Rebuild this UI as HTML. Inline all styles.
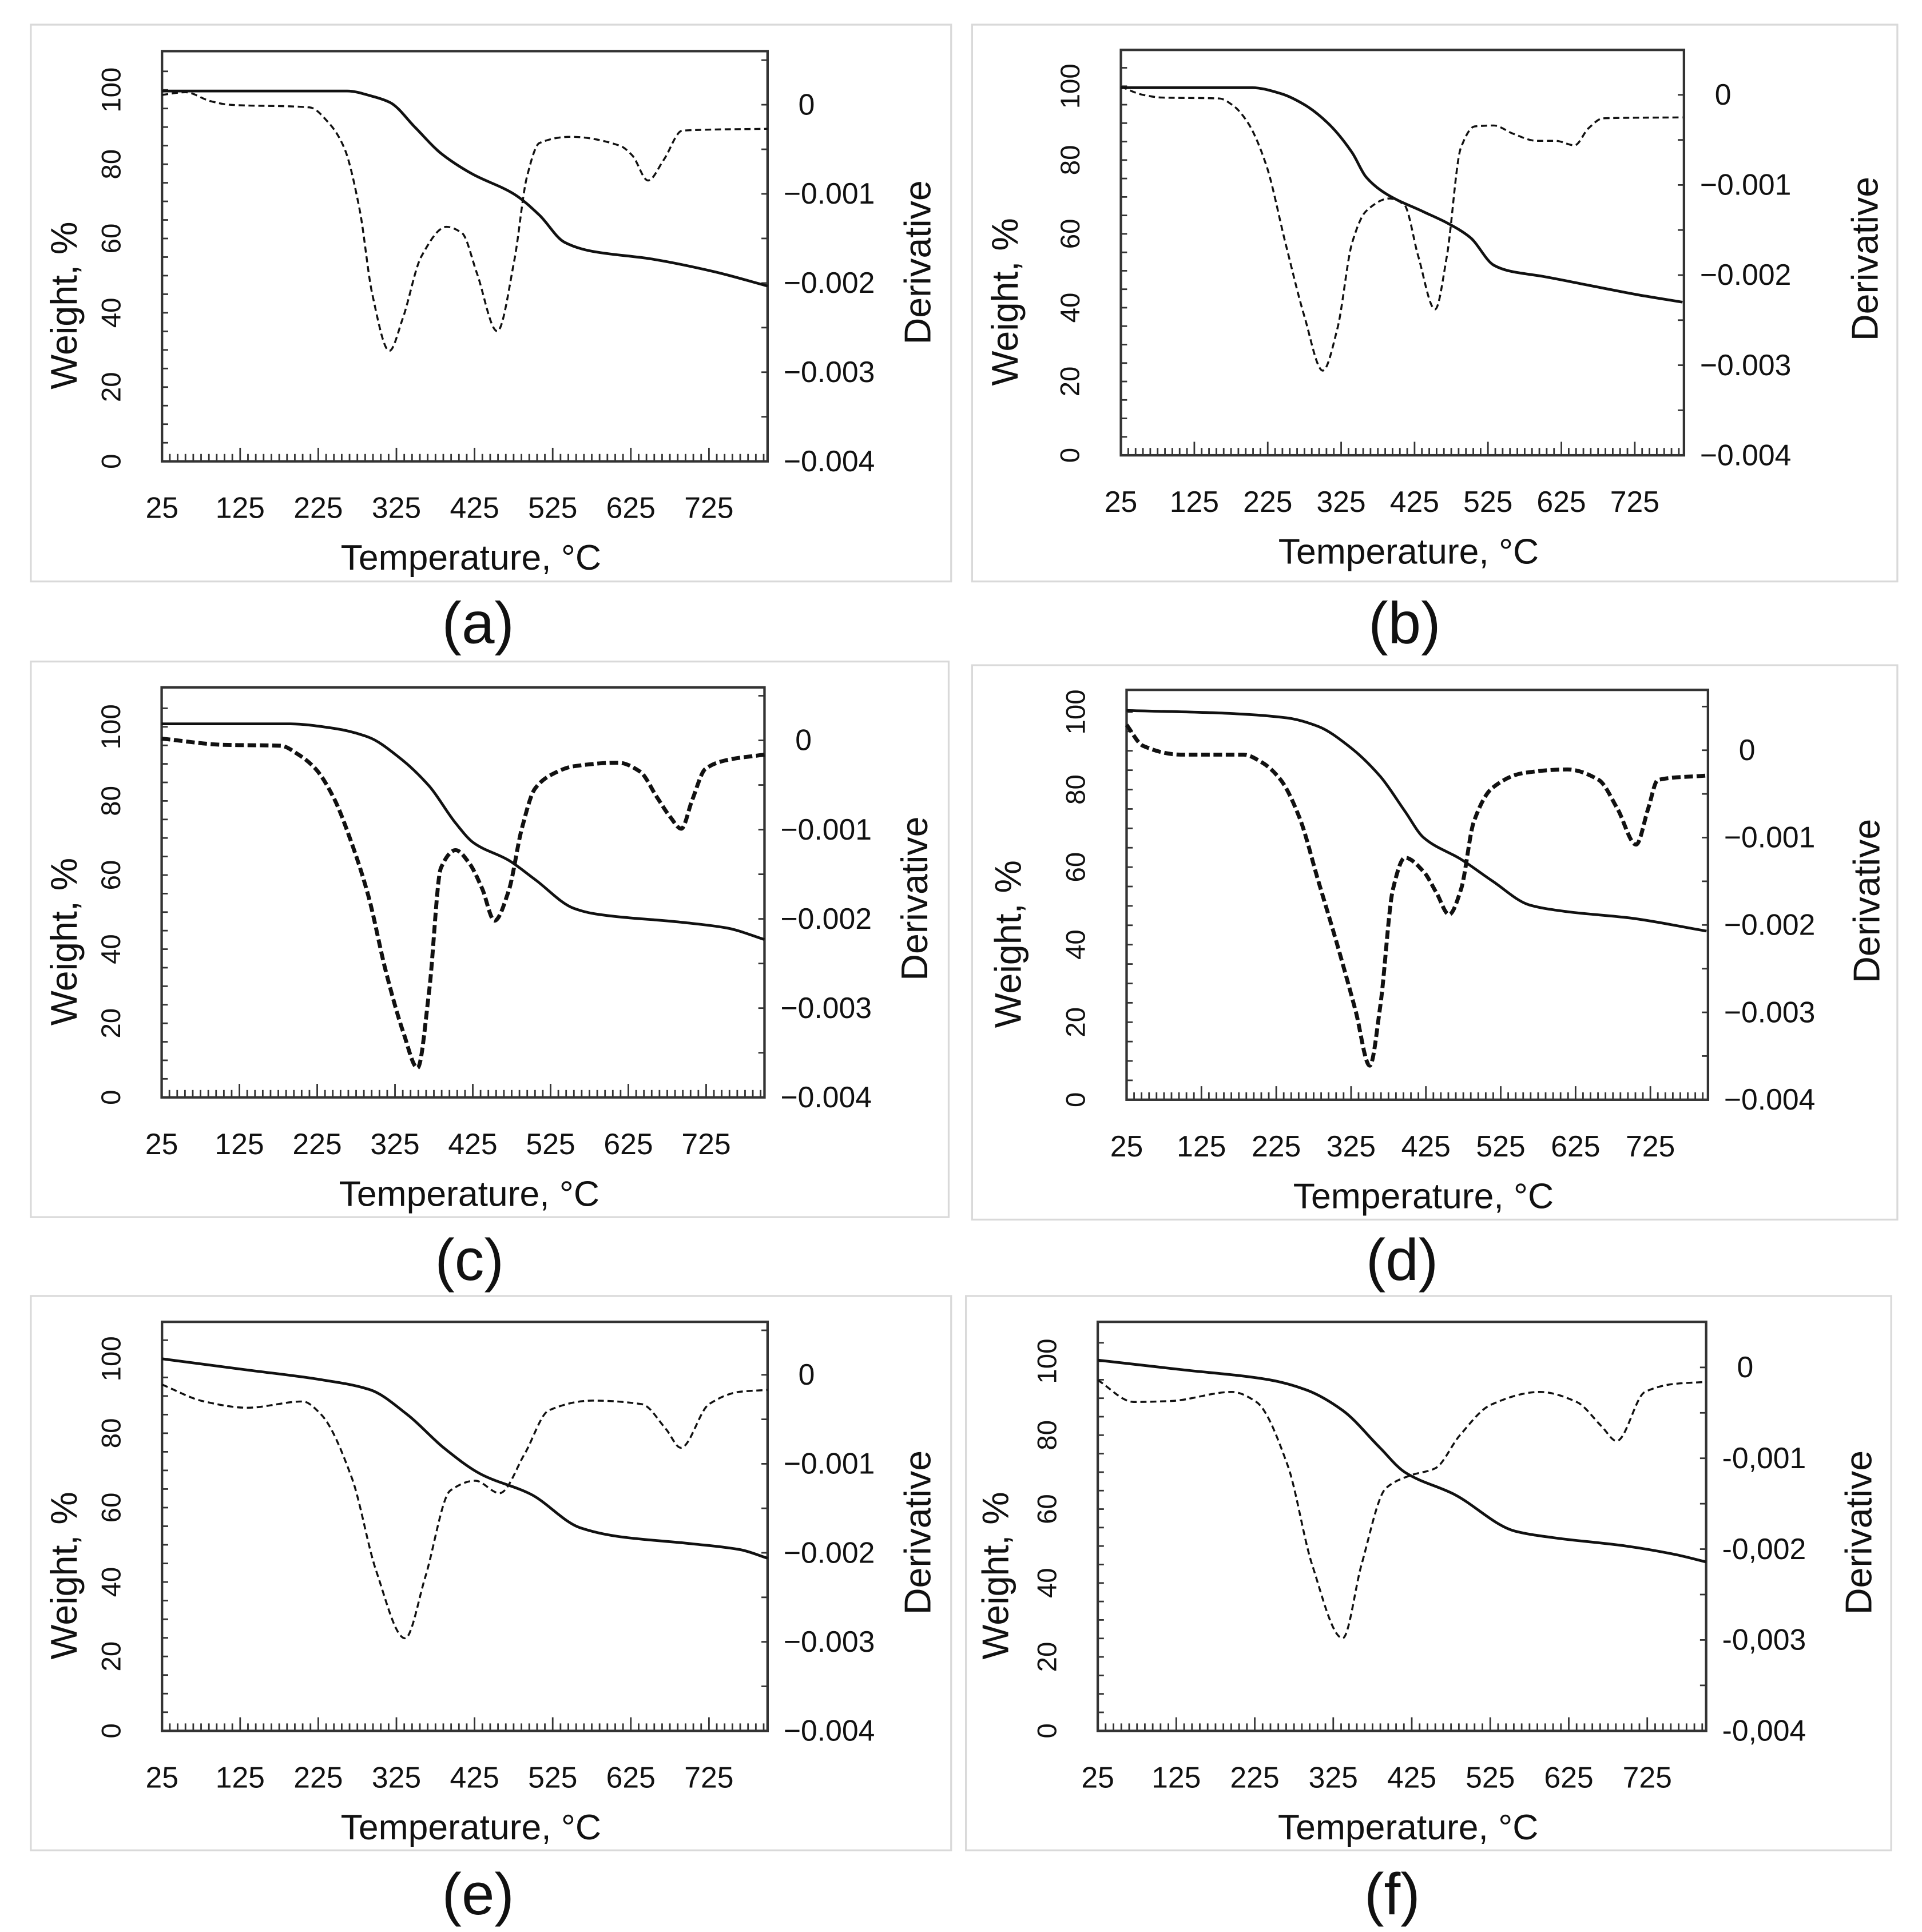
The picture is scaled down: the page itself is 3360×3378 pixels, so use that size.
<!DOCTYPE html>
<html><head><meta charset="utf-8">
<style>
html,body{margin:0;padding:0;background:#fff;}
svg{display:block;}
text{font-family:"Liberation Sans",sans-serif;fill:#111;}
.nar{font-family:"Liberation Sans Narrow","Liberation Sans",sans-serif;}
</style></head>
<body>
<svg id="fig" width="3360" height="3378" viewBox="0 0 1560 1568.3" preserveAspectRatio="none" xmlns="http://www.w3.org/2000/svg"></svg>
<script>
// ---- data (temperature °C, weight %, derivative in units of 0.001) ----
const tempsWA=[25,262,294,317,349,381,421,476,508,540,572,651,731,800];
const weightA=[99.7,99.7,98.3,96.6,89.9,83.1,77.5,71.9,66.3,59,56.7,54.5,51.1,47.2];
const tempsDA=[25,55,87,111,214,238,258,278,294,316,333,357,389,409,428,454,476,492,508,548,611,627,647,667,691,800];
const derivA=[0.11,0.14,0.04,0,-0.03,-0.2,-0.48,-1.18,-2.12,-2.76,-2.4,-1.7,-1.37,-1.44,-1.89,-2.54,-1.74,-0.81,-0.43,-0.36,-0.46,-0.57,-0.85,-0.62,-0.29,-0.27];

const tempsWB=[25,204,243,275,307,340,359,385,437,469,501,533,553,599,664,729,790];
const weightB=[99.6,99.6,98,95,90,82,75.4,71,66,63,59,51.5,50,48.5,46,43.5,41.5];
const tempsDB=[25,55,81,159,178,198,223,249,275,300,320,340,359,391,411,430,453,469,488,507,533,559,591,617,643,662,682,790];
const derivB=[0.09,0,-0.03,-0.04,-0.12,-0.31,-0.78,-1.64,-2.46,-3.06,-2.59,-1.64,-1.29,-1.15,-1.22,-1.79,-2.38,-1.79,-0.59,-0.35,-0.34,-0.43,-0.51,-0.51,-0.56,-0.37,-0.26,-0.25];

const tempsWC=[25,189,246,291,330,369,403,426,471,505,555,583,696,752,800];
const weightC=[100.8,100.8,99.6,97.2,91.8,84,74,68.7,64,58.8,51,49.5,47.2,45.7,42.6];
const tempsDC=[25,105,178,201,223,246,268,291,313,336,354,369,384,403,420,437,453,471,488,505,527,555,612,640,662,679,693,707,724,752,800];
const derivC=[0.02,-0.05,-0.06,-0.16,-0.32,-0.64,-1.12,-1.75,-2.58,-3.28,-3.67,-2.8,-1.43,-1.23,-1.37,-1.66,-2.02,-1.69,-0.99,-0.54,-0.38,-0.29,-0.25,-0.35,-0.64,-0.86,-0.99,-0.67,-0.32,-0.22,-0.16];

const tempsWD=[25,156,239,281,322,364,397,422,472,514,564,614,697,800];
const weightD=[100.4,99.7,98.5,96.3,91.2,83.4,74.4,67.6,62,56.4,50.2,48.5,46.9,43.5];
const tempsDD=[25,47,97,181,206,231,256,281,306,331,350,364,381,397,422,439,456,472,489,514,556,614,656,681,706,722,735,800];
const derivD=[0.29,0.05,-0.05,-0.05,-0.14,-0.34,-0.77,-1.49,-2.21,-2.98,-3.61,-2.93,-1.59,-1.23,-1.39,-1.63,-1.88,-1.59,-0.82,-0.43,-0.26,-0.22,-0.34,-0.67,-1.08,-0.67,-0.34,-0.29];

const tempsWE=[25,134,228,291,339,386,433,497,560,607,702,765,800];
const weightE=[100,97,94.4,91.7,85,76,69,63.6,54.6,52.3,50.3,48.7,46.4];
const tempsDE=[25,79,134,205,228,268,299,336,362,394,426,457,489,520,576,639,670,689,725,765,800];
const derivE=[-0.11,-0.3,-0.37,-0.3,-0.44,-1.16,-2.2,-2.96,-2.27,-1.3,-1.19,-1.33,-0.89,-0.4,-0.29,-0.33,-0.61,-0.82,-0.33,-0.19,-0.17];

const tempsWF=[25,133,243,290,337,384,416,479,557,604,698,761,800];
const weightF=[100.3,97.7,95,92.3,86.7,76.7,70,64,54,52.3,50,47.7,45.7];
const tempsDF=[25,71,118,196,227,267,298,337,361,392,423,455,486,526,588,635,667,686,722,761,800];
const derivF=[-0.14,-0.38,-0.37,-0.27,-0.38,-1.08,-2.17,-2.98,-2.17,-1.33,-1.19,-1.11,-0.75,-0.41,-0.27,-0.38,-0.65,-0.81,-0.27,-0.18,-0.16];

const xTickLabels=["25","125","225","325","425","525","625","725"];
const wTickLabels=["0","20","40","60","80","100"];
const dTickLabelsDot=["0","−0.001","−0.002","−0.003","−0.004"];
const dTickLabelsComma=["0","-0,001","-0,002","-0,003","-0,004"];

// ---- layout (positions only) ----
const panels=[
 {id:'a',tw:tempsWA,w:weightA,td:tempsDA,d:derivA,frame:[25,20,772,472],plot:[131.5,41.5,623,374.5],xmax:800,y100:73,dy0:85,dl:dTickLabelsDot,cap:[388,522],noisy:false,wlab:52,dlab:122},
 {id:'b',tw:tempsWB,w:weightB,td:tempsDB,d:derivB,frame:[789,20,1540,472],plot:[909.8,40.5,1366.8,369.6],xmax:792,y100:70,dy0:77,dl:dTickLabelsDot,cap:[1140,522],noisy:false,wlab:-94,dlab:147},
 {id:'c',tw:tempsWC,w:weightC,td:tempsDC,d:derivC,frame:[25,537,770,988],plot:[131.2,558,620.5,890.8],xmax:800,y100:590,dy0:601,dl:dTickLabelsDot,cap:[381,1039],noisy:true,wlab:52,dlab:122},
 {id:'d',tw:tempsWD,w:weightD,td:tempsDD,d:derivD,frame:[789,540,1540,990],plot:[914.4,560,1386.3,892.7],xmax:802,y100:578,dy0:609,dl:dTickLabelsDot,cap:[1138,1039],noisy:true,wlab:-96,dlab:129},
 {id:'e',tw:tempsWE,w:weightE,td:tempsDE,d:derivE,frame:[25,1052,772,1502],plot:[131.5,1073,623,1405],xmax:800,y100:1103,dy0:1116,dl:dTickLabelsDot,cap:[388,1554],noisy:false,wlab:52,dlab:122},
 {id:'f',tw:tempsWF,w:weightF,td:tempsDF,d:derivF,frame:[784,1052,1535,1502],plot:[891,1073,1384.8,1405],xmax:800,y100:1105,dy0:1110,dl:dTickLabelsComma,cap:[1130,1554],noisy:false,wlab:-83,dlab:124}
];

const NS='http://www.w3.org/2000/svg';
const svg=document.getElementById('fig');
function mk(tag,attrs,parent){const e=document.createElementNS(NS,tag);for(const k in attrs)e.setAttribute(k,attrs[k]);(parent||svg).appendChild(e);return e;}
// monotone cubic (Fritsch-Carlson) path through pixel points sorted by x
function smooth(pts){
  const n=pts.length, h=[], s=[], m=[];
  for(let i=0;i<n-1;i++){h[i]=pts[i+1][0]-pts[i][0];s[i]=(pts[i+1][1]-pts[i][1])/h[i];}
  m[0]=s[0]; m[n-1]=s[n-2];
  for(let i=1;i<n-1;i++){
    if(s[i-1]*s[i]<=0) m[i]=0;
    else{const w1=2*h[i]+h[i-1],w2=h[i]+2*h[i-1];m[i]=(w1+w2)/(w1/s[i-1]+w2/s[i]);}
  }
  let d='M'+pts[0][0].toFixed(2)+','+pts[0][1].toFixed(2);
  for(let i=0;i<n-1;i++){
    const x1=pts[i][0],y1=pts[i][1],x2=pts[i+1][0],y2=pts[i+1][1];
    d+='C'+(x1+h[i]/3).toFixed(2)+','+(y1+m[i]*h[i]/3).toFixed(2)+' '+(x2-h[i]/3).toFixed(2)+','+(y2-m[i+1]*h[i]/3).toFixed(2)+' '+x2.toFixed(2)+','+y2.toFixed(2);
  }
  return d;
}

panels.forEach(p=>{
  const g=mk('g',{});
  
  
  const [fx1,fy1,fx2,fy2]=p.frame, [L,T,R,B]=p.plot;
  const fr=mk('rect',{x:fx1,y:fy1,width:fx2-fx1,height:fy2-fy1,fill:'none',stroke:'#d9d9d9','stroke-width':1.5},g);
  
  
  const xS=t=>L+(t-25)/(p.xmax-25)*(R-L);
  const wS=v=>B-(v/100)*(B-p.y100);
  const dScale=v=>p.dy0+(-v/4)*(B-p.dy0);
  const tk=mk('g',{stroke:'#333','stroke-width':1.3},g);
  
  
  for(let t=25;t<=p.xmax+0.1;t+=10){const big=((t-25)%100===0);mk('line',{x1:xS(t),x2:xS(t),y1:B,y2:B-(big?11:6)},tk);}
  for(let v=5;wS(v)>T+3;v+=5){mk('line',{x1:L,x2:L+5,y1:wS(v),y2:wS(v)},tk);}
  for(let v=0;v>=-4;v-=0.5){const y=dScale(v);if(y>T+3&&y<B-2)mk('line',{x1:R,x2:R-5,y1:y,y2:y},tk);}
  for(let v=0.5;dScale(v)>T+3;v+=0.5){mk('line',{x1:R,x2:R-5,y1:dScale(v),y2:dScale(v)},tk);}
  const bx=mk('rect',{x:L,y:T,width:R-L,height:B-T,fill:'none',stroke:'#333','stroke-width':2},g);
  
  
  const dp=mk('path',{d:smooth(p.td.map((t,i)=>[xS(t),dScale(p.d[i])])),fill:'none',stroke:'#111','stroke-width':p.noisy?3.2:1.6,'stroke-dasharray':p.noisy?'7,3':'5,3'},g);
  
  
  const wp=mk('path',{d:smooth(p.tw.map((t,i)=>[xS(t),wS(p.w[i])])),fill:'none',stroke:'#111','stroke-width':2.2},g);
  
  
  xTickLabels.forEach(s=>{const t=+s;const e=mk('text',{x:xS(t),y:B+46,'font-size':24,'text-anchor':'middle','class':'nar'},g);e.textContent=s;
    
    });
  wTickLabels.forEach(s=>{const v=+s;const cx=L-41,cy=wS(v);const e=mk('text',{x:cx,y:cy,'font-size':22,'text-anchor':'middle','dominant-baseline':'central',transform:'rotate(-90 '+cx+' '+cy+')',fill:'#222'},g);e.textContent=s;
    
    });
  p.dl.forEach((s,i)=>{const y=dScale(-i);const e=mk('text',{x:R+(i===0?25:13),y:y+8,'font-size':24,'class':'nar'},g);e.textContent=s;
    
    });
  const xt=mk('text',{x:(L+R)/2+5,y:B+88,'font-size':29,'text-anchor':'middle'},g);
  xt.textContent=p.id==='b'?'Temperature,  °C':'Temperature, °C';
  
  
  const wx=(p.wlab>0?p.wlab:L+p.wlab), my=(T+B)/2+40;
  const wt=mk('text',{x:wx,y:my,'font-size':30,'text-anchor':'middle','dominant-baseline':'central',transform:'rotate(-90 '+wx+' '+my+')'},g);
  wt.textContent='Weight, %';
  
  
  const dx=R+p.dlab, dmy=(T+B)/2+5;
  const dt=mk('text',{x:dx,y:dmy,'font-size':30,'text-anchor':'middle','dominant-baseline':'central',transform:'rotate(-90 '+dx+' '+dmy+')'},g);
  dt.textContent='Derivative';
  
  
  const cp=mk('text',{x:p.cap[0],y:p.cap[1],'font-size':48,'text-anchor':'middle'},g);
  cp.textContent='('+p.id+')';
  
  
});
</script>
</body></html>
